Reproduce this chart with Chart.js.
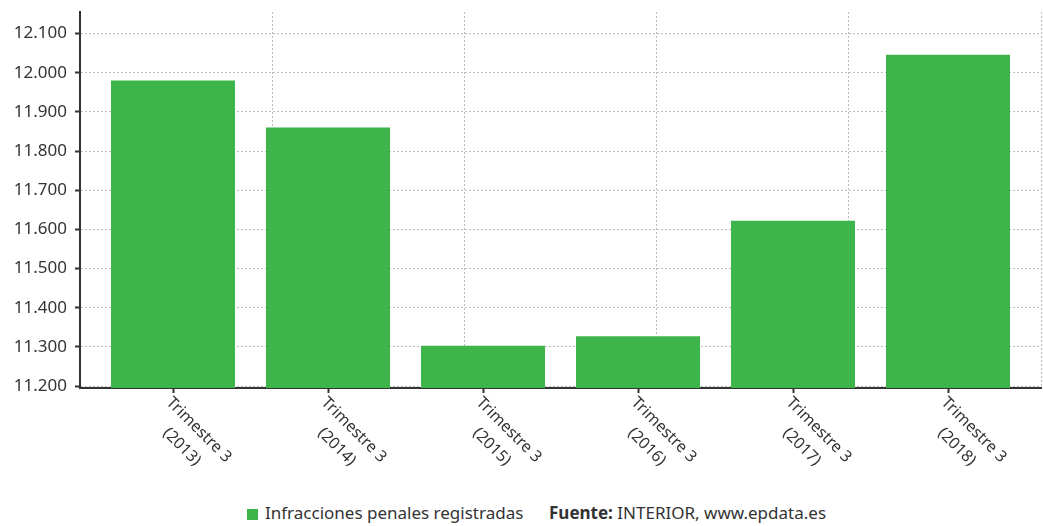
<!DOCTYPE html>
<html>
<head>
<meta charset="utf-8">
<script src="https://cdn.jsdelivr.net/npm/chart.js@4.4.1/dist/chart.umd.min.js"></script>
<style>
  body { margin: 0; background: #fff; font-family: "Noto Sans", sans-serif; }
  #wrap { position: relative; width: 1043px; height: 490px; }
  #legend { position: absolute; top: 501px; left: 0; width: 1043px; height: 25px; font-size: 17px; color: #333; }
  #legend .box { position: absolute; left: 247px; top: 8px; width: 11px; height: 11px; background: #3db54a; }
  #legend .serie { position: absolute; left: 265px; top: 0; }
  #legend .fuente { position: absolute; left: 549px; top: 0; }
</style>
</head>
<body>
<div id="wrap"><canvas id="chart"></canvas></div>
<div id="legend">
  <span class="box"></span>
  <span class="serie">Infracciones penales registradas</span>
  <span class="fuente"><b>Fuente:</b> INTERIOR, www.epdata.es</span>
</div>
<script>
// ===== Datos =====
const periodos = ['Trimestre 3', 'Trimestre 3', 'Trimestre 3', 'Trimestre 3', 'Trimestre 3', 'Trimestre 3'];
const anios = ['(2013)', '(2014)', '(2015)', '(2016)', '(2017)', '(2018)'];
const infracciones = [11980, 11860, 11303, 11327, 11622, 12046];
const yTicks = [11200, 11300, 11400, 11500, 11600, 11700, 11800, 11900, 12000, 12100];

const verde = '#3db54a';
const texto = '#333';
const rejilla = '#bdbdbd';

// formato español: 12.100
const fmt = v => String(v).replace(/\B(?=(\d{3})+(?!\d))/g, '.');

// --- Etiquetas del eje x giradas 45° hacia abajo ---
const rotatedLabels = {
  id: 'rotatedLabels',
  afterDraw(chart) {
    const { ctx } = chart;
    const xs = chart.scales.x;
    ctx.save();
    ctx.font = '16px "Noto Sans"';
    ctx.fillStyle = texto;
    ctx.textAlign = 'center';
    ctx.textBaseline = 'middle';
    infracciones.forEach((v, i) => {
      const x = xs.getPixelForValue(i);
      const y = xs.top + 2;
      const w = ctx.measureText(periodos[i]).width;
      ctx.save();
      ctx.translate(x, y);
      ctx.rotate(Math.PI / 4);
      ctx.fillText(periodos[i], w / 2 + 4, 10);
      ctx.fillText(anios[i], w / 2 + 4, 34);
      ctx.restore();
    });
    ctx.restore();
  }
};

const ctx = document.getElementById('chart').getContext('2d');
new Chart(ctx, {
  type: 'bar',
  data: {
    datasets: [{
      label: 'Infracciones penales registradas',
      data: infracciones.map((v, i) => ({ x: i, y: v })),
      backgroundColor: verde,
      borderWidth: 0,
      barPercentage: 0.8,
      categoryPercentage: 1
    }]
  },
  options: {
    responsive: true,
    maintainAspectRatio: false,
    animation: false,
    layout: { padding: { top: 12, right: 2, left: 0, bottom: 0 } },
    plugins: {
      legend: { display: false },
      tooltip: { enabled: false }
    },
    scales: {
      x: {
        type: 'linear',
        min: -0.6,
        max: 5.6,
        offset: false,
        afterBuildTicks: s => { s.ticks = infracciones.map((v, i) => ({ value: i })); },
        afterFit: s => { s.height = 102; },
        ticks: { display: false },
        grid: { offset: false, drawOnChartArea: false, drawTicks: true, tickLength: 5, tickColor: texto, tickWidth: 2 },
        border: { display: true, color: texto, width: 2 }
      },
      xg: {
        type: 'linear',
        position: 'bottom',
        min: 0,
        max: 5,
        offset: false,
        afterBuildTicks: s => { s.ticks = [0, 1, 2, 3, 4, 5].map(v => ({ value: v })); },
        afterFit: s => { s.height = 0; },
        ticks: { display: false },
        grid: { offset: false, drawTicks: false, color: rejilla, lineWidth: 1 },
        border: { display: false, dash: [2, 2] }
      },
      y: {
        min: 11195,
        max: 12155,
        afterBuildTicks: s => { s.ticks = yTicks.map(v => ({ value: v })); },
        afterFit: s => { s.width = 80; s.paddingTop = 0; s.paddingBottom = 0; },
        ticks: {
          color: texto,
          font: { family: '"Noto Sans"', size: 17 },
          padding: 8,
          callback: v => fmt(v)
        },
        grid: { color: rejilla, lineWidth: 1, tickLength: 5, tickColor: texto, tickBorderDash: [], tickWidth: 2 },
        border: { display: true, color: texto, width: 2, dash: [2, 2] }
      }
    }
  },
  plugins: [rotatedLabels]
});
</script>
</body>
</html>
